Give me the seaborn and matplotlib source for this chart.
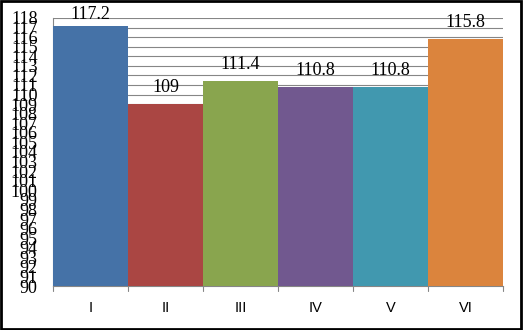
import matplotlib
matplotlib.use("Agg")
import matplotlib.pyplot as plt
import seaborn as sns
import pandas as pd
from matplotlib.patches import Rectangle

categories = ["I", "II", "III", "IV", "V", "VI"]
values = [117.2, 109, 111.4, 110.8, 110.8, 115.8]
labels = ["117.2", "109", "111.4", "110.8", "110.8", "115.8"]
colors = ["#4572A7", "#AA4643", "#89A54E", "#71588F", "#4198AF", "#DB843D"]
yticks = list(range(90, 119))

sns.set_style("white")
plt.rcParams["text.color"] = "black"
plt.rcParams["xtick.color"] = "black"
plt.rcParams["ytick.color"] = "black"
fig = plt.figure(figsize=(5.23, 3.30), dpi=100)
ax = fig.add_axes([0.1013, 0.1333, 0.8605, 0.8122])

df = pd.DataFrame({"cat": categories, "val": values})
sns.barplot(data=df, x="cat", y="val", hue="cat", palette=colors, width=1.0,
            legend=False, ax=ax, saturation=1, linewidth=0, zorder=3)

ax.set_ylim(90, 118)
ax.set_xlim(-0.5, 5.5)
ax.set_yticks(yticks)
ax.set_yticklabels([str(t) for t in yticks], fontfamily="Liberation Serif", fontsize=13,
                   color="black")
ax.yaxis.grid(True, color="#868686", linewidth=0.8, zorder=0)
ax.set_axisbelow(True)
ax.set_xlabel("")
ax.set_ylabel("")

ax.set_xticks(range(len(categories)))
ax.set_xticklabels(categories, fontfamily="Liberation Sans", fontsize=10.5, color="black")
ax.tick_params(axis="x", length=0, pad=11)
ax.tick_params(axis="y", length=4, color="#868686", pad=7, direction="out")
for b in [x - 0.5 for x in range(len(categories) + 1)]:
    ax.plot([b, b], [0, -0.018], transform=ax.get_xaxis_transform(), clip_on=False,
            color="#868686", linewidth=0.8)

for s in ["top", "right"]:
    ax.spines[s].set_visible(False)
for s in ["left", "bottom"]:
    ax.spines[s].set_color("#868686")
    ax.spines[s].set_linewidth(0.8)

# label centre about 16.5 px above bar top, kept inside the chart area at the top
px_per_unit = ax.get_window_extent().height / (118 - 90)
for i, (v, t) in enumerate(zip(values, labels)):
    ly = min(v + 16.5 / px_per_unit, 118 + 3.3 / px_per_unit)
    ax.annotate(t, (i, ly), xycoords="data", annotation_clip=False,
                ha="center", va="center", fontfamily="Liberation Serif", fontsize=13,
                color="black")

fig.patches.append(Rectangle((0.002, 0.003), 0.995, 0.994, transform=fig.transFigure,
                             fill=False, edgecolor="black", linewidth=2))

fig.savefig("out.png", dpi=100)
